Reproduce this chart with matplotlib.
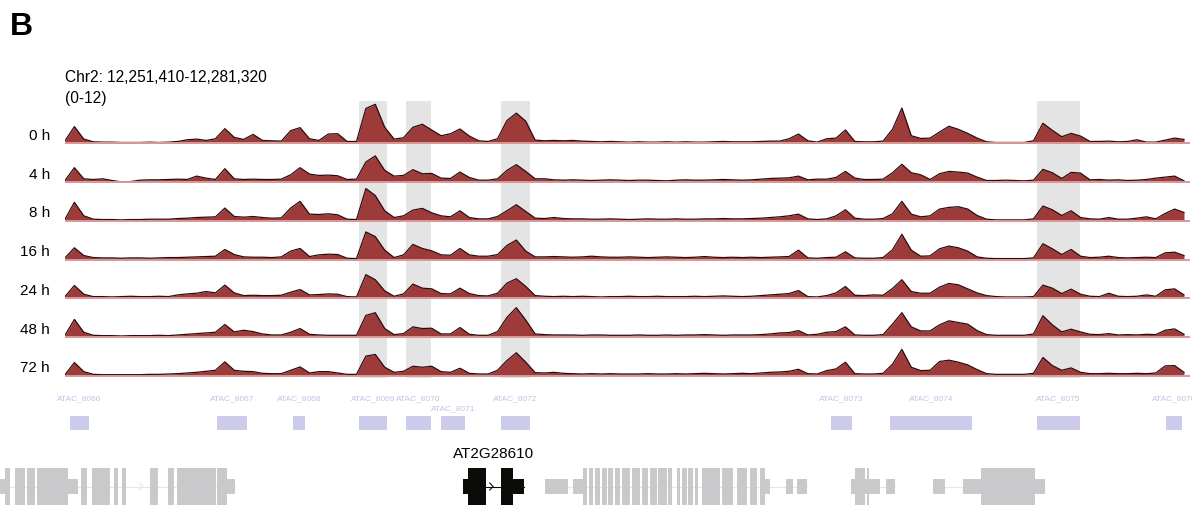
import numpy as np
import matplotlib
matplotlib.use('Agg')
from matplotlib import pyplot as plt
from matplotlib.patches import Rectangle

plt.rcParams['font.family'] = ['Liberation Sans', 'DejaVu Sans']

# region shown in the browser
chrom = 'Chr2'
start, end = 12251410, 12281320
bin_size = 250

samples = ['0 h', '4 h', '8 h', '16 h', '24 h', '48 h', '72 h']

# ATAC coverage, one value per 250 bp bin (scale 0-12)
sig_0h = [0.8, 5.0, 1.3, 0.5, 0.4, 0.4, 0.3, 0.3, 0.3, 0.4,
          0.3, 0.4, 0.6, 1.1, 1.3, 0.9, 1.4, 4.4, 1.8, 1.2,
          2.7, 0.9, 0.8, 0.7, 3.8, 4.7, 1.4, 0.9, 2.8, 2.9,
          0.6, 0.6, 10.4, 11.6, 4.8, 1.3, 1.7, 4.8, 5.7, 4.0,
          2.3, 2.9, 4.3, 2.2, 0.8, 0.6, 1.4, 6.8, 9.0, 6.6,
          1.0, 0.8, 0.9, 0.8, 0.9, 0.7, 0.6, 0.5, 0.6, 0.5,
          0.4, 0.5, 0.4, 0.4, 0.5, 0.4, 0.5, 0.4, 0.4, 0.5,
          0.6, 0.5, 0.5, 0.5, 0.6, 0.7, 0.7, 1.4, 2.8, 0.8,
          0.4, 1.4, 1.6, 4.0, 0.6, 0.5, 0.5, 0.7, 4.2, 10.5,
          2.3, 1.5, 1.6, 3.4, 5.1, 4.2, 3.0, 1.6, 0.5, 0.3,
          0.3, 0.3, 0.3, 0.8, 6.0, 3.9, 2.0, 3.0, 2.2, 0.6,
          0.6, 0.7, 0.5, 0.6, 1.1, 0.4, 0.4, 1.0, 1.6, 1.2]
sig_4h = [0.5, 4.3, 1.0, 0.8, 1.0, 0.5, 0.1, 0.2, 0.6, 0.7,
          0.7, 0.8, 0.9, 0.8, 1.8, 1.2, 0.8, 4.0, 1.0, 0.8,
          0.9, 0.8, 0.8, 0.9, 2.2, 4.3, 2.4, 2.0, 2.1, 1.9,
          0.8, 0.9, 6.0, 7.8, 3.5, 1.8, 2.0, 3.7, 2.5, 2.6,
          1.2, 1.1, 3.0, 1.4, 0.6, 0.6, 1.0, 3.5, 5.2, 3.2,
          1.0, 1.0, 0.7, 0.6, 0.7, 0.6, 0.5, 0.6, 0.7, 0.6,
          0.5, 0.6, 0.6, 0.5, 0.4, 0.6, 0.7, 0.6, 0.6, 0.7,
          0.8, 0.7, 0.6, 0.7, 0.9, 1.1, 1.2, 1.3, 1.8, 0.7,
          0.9, 0.9, 1.4, 3.2, 1.2, 0.8, 0.8, 0.9, 2.8, 5.3,
          2.8, 2.2, 0.8, 2.5, 3.2, 3.0, 2.7, 1.5, 0.5, 0.5,
          0.6, 0.5, 0.4, 0.6, 3.8, 2.8, 1.1, 2.9, 2.7, 0.7,
          0.8, 0.6, 0.7, 0.5, 0.6, 0.8, 1.2, 1.5, 1.8, 0.4]
sig_8h = [0.5, 5.5, 1.5, 0.5, 0.4, 0.4, 0.3, 0.4, 0.4, 0.5,
          0.5, 0.5, 0.7, 0.8, 1.0, 1.1, 1.2, 3.8, 1.3, 1.1,
          1.3, 1.0, 0.8, 0.9, 3.8, 5.8, 2.0, 1.9, 2.1, 1.8,
          0.5, 0.4, 9.6, 7.5, 3.0, 1.0, 1.5, 3.2, 3.7, 2.4,
          1.5, 1.2, 3.0, 1.0, 0.6, 0.6, 1.3, 3.0, 4.8, 2.8,
          0.8, 0.7, 1.0, 0.7, 0.6, 0.6, 0.5, 0.5, 0.6, 0.5,
          0.4, 0.5, 0.6, 0.5, 0.5, 0.6, 0.5, 0.5, 0.6, 0.6,
          0.7, 0.6, 0.6, 0.7, 0.8, 1.0, 1.2, 1.5, 2.0, 0.6,
          0.4, 0.6, 1.5, 3.3, 0.8, 0.5, 0.5, 0.7, 2.1, 5.8,
          2.0, 1.2, 1.5, 3.5, 4.0, 4.2, 3.5, 1.6, 0.5, 0.3,
          0.3, 0.3, 0.3, 0.6, 4.4, 3.3, 1.6, 3.0, 1.0, 0.6,
          0.5, 1.0, 0.5, 0.5, 0.8, 1.2, 0.6, 2.2, 3.5, 2.5]
sig_16h = [0.5, 3.5, 1.2, 0.6, 0.5, 0.5, 0.4, 0.5, 0.5, 0.4,
           0.5, 0.6, 0.6, 0.7, 0.8, 0.9, 1.0, 3.0, 1.5, 0.8,
           0.7, 0.7, 0.6, 0.8, 2.5, 3.3, 0.9, 1.4, 1.6, 1.5,
           0.4, 0.3, 8.2, 6.8, 2.8, 0.6, 1.4, 4.5, 3.3, 2.6,
           1.4, 1.3, 3.3, 1.4, 1.0, 1.0, 1.5, 4.2, 5.8, 2.5,
           0.8, 0.8, 0.9, 0.8, 0.7, 0.8, 1.0, 0.8, 0.7, 0.7,
           0.8, 0.7, 0.6, 0.7, 0.8, 0.7, 0.6, 0.7, 0.9, 0.7,
           0.6, 0.7, 0.6, 0.7, 0.6, 0.7, 0.8, 0.9, 2.8, 0.5,
           0.4, 0.6, 0.7, 2.3, 0.5, 0.4, 0.4, 0.6, 2.9, 7.5,
           2.8, 1.0, 1.1, 3.2, 4.0, 3.5, 2.5, 0.8, 0.4, 0.3,
           0.3, 0.3, 0.3, 0.5, 4.7, 3.2, 1.5, 3.0, 1.0, 0.6,
           0.7, 1.0, 0.6, 0.5, 0.6, 0.7, 0.6, 2.0, 2.2, 1.2]
sig_24h = [0.5, 3.8, 1.2, 0.5, 0.5, 0.4, 0.5, 0.6, 0.5, 0.5,
           0.6, 0.5, 1.0, 1.3, 1.5, 2.0, 1.6, 3.9, 1.6, 0.8,
           0.9, 0.8, 0.8, 0.9, 1.8, 2.6, 1.0, 1.1, 1.3, 1.2,
           0.5, 0.4, 7.0, 5.5, 2.2, 0.6, 1.3, 4.2, 3.0, 2.8,
           1.4, 1.3, 3.0, 1.4, 0.8, 0.7, 1.5, 4.5, 5.8, 3.5,
           0.8, 0.6, 0.5, 0.6, 0.5, 0.6, 0.5, 0.4, 0.5, 0.5,
           0.6, 0.5, 0.5, 0.6, 0.5, 0.5, 0.5, 0.6, 0.5, 0.6,
           0.7, 0.6, 0.5, 0.6, 0.8, 1.0, 1.2, 1.4, 2.3, 0.5,
           0.4, 0.8, 1.6, 3.5, 0.9, 0.8, 1.0, 0.9, 2.9, 5.5,
           2.0, 1.5, 1.5, 3.3, 4.4, 4.0, 2.8, 1.6, 0.8, 0.5,
           0.4, 0.4, 0.4, 0.5, 3.9, 3.0, 1.4, 2.7, 1.2, 0.6,
           0.5, 1.5, 0.6, 0.5, 0.6, 1.0, 0.6, 2.5, 2.8, 1.0]
sig_48h = [0.5, 5.2, 1.4, 0.5, 0.4, 0.4, 0.3, 0.4, 0.4, 0.4,
           0.5, 0.4, 0.6, 0.8, 1.0, 1.2, 1.4, 3.7, 1.5, 2.0,
           1.6, 0.9, 0.6, 0.6, 1.4, 2.5, 0.8, 0.6, 0.5, 0.5,
           0.5, 0.5, 6.4, 7.2, 2.5, 0.7, 1.0, 3.0, 2.5, 2.6,
           0.9, 0.9, 2.8, 0.8, 0.5, 0.5, 1.6, 5.8, 8.7, 5.0,
           0.9, 0.7, 0.6, 0.6, 0.6, 0.5, 0.6, 0.6, 0.5, 0.5,
           0.5, 0.6, 0.5, 0.5, 0.6, 0.5, 0.6, 0.6, 0.7, 0.6,
           0.5, 0.6, 0.6, 0.6, 0.7, 0.9, 1.2, 1.3, 1.9, 0.6,
           0.8, 1.4, 1.6, 3.0, 0.6, 0.5, 0.5, 0.7, 3.8, 7.2,
           3.0, 1.8, 1.8, 3.6, 4.8, 4.3, 3.8, 1.9, 0.7, 0.5,
           0.5, 0.5, 0.5, 0.9, 6.3, 3.6, 1.5, 2.3, 1.5, 0.8,
           0.7, 1.0, 0.6, 0.7, 0.6, 0.8, 0.7, 2.0, 2.4, 0.8]
sig_72h = [0.3, 3.9, 1.2, 0.4, 0.3, 0.3, 0.3, 0.3, 0.3, 0.4,
           0.4, 0.5, 0.6, 0.8, 1.0, 1.3, 1.6, 4.1, 1.6, 1.3,
           1.2, 0.7, 0.6, 0.6, 1.6, 2.6, 0.8, 1.2, 1.2, 0.8,
           0.4, 0.4, 5.8, 6.3, 2.5, 1.0, 1.3, 2.8, 2.5, 2.8,
           1.2, 1.0, 2.2, 0.7, 0.5, 0.5, 1.6, 4.5, 6.8, 4.0,
           0.9, 0.8, 1.0, 0.7, 0.6, 0.5, 0.6, 0.5, 0.6, 0.5,
           0.5, 0.5, 0.6, 0.5, 0.5, 0.6, 0.5, 0.6, 0.7, 0.6,
           0.5, 0.6, 0.7, 0.6, 0.8, 1.0, 1.1, 1.3, 1.9, 0.6,
           0.5, 1.5, 2.0, 4.0, 0.6, 0.5, 0.5, 0.7, 3.4, 7.8,
           2.5, 1.5, 1.6, 4.2, 4.6, 4.0, 3.2, 1.8, 0.6, 0.4,
           0.4, 0.4, 0.4, 0.7, 5.4, 3.0, 1.6, 2.3, 1.0, 0.6,
           0.6, 0.7, 0.6, 0.6, 0.7, 0.6, 0.8, 2.9, 3.0, 1.0]
tracks = [sig_0h, sig_4h, sig_8h, sig_16h, sig_24h, sig_48h, sig_72h]

# called ATAC peaks
peak_names = ['ATAC_8066', 'ATAC_8067', 'ATAC_8068', 'ATAC_8069', 'ATAC_8070', 'ATAC_8071',
              'ATAC_8072', 'ATAC_8073', 'ATAC_8074', 'ATAC_8075', 'ATAC_8076']
peak_starts = [12251543, 12255451, 12257472, 12259227, 12260476, 12261407,
               12263002, 12271776, 12273344, 12277253, 12280682]
peak_ends = [12252048, 12256249, 12257791, 12259971, 12261141, 12262045,
             12263773, 12272334, 12275524, 12278396, 12281108]
highlighted = ['ATAC_8069', 'ATAC_8070', 'ATAC_8072', 'ATAC_8075']

# gene models: span, strand, coding (tall) and UTR (short) blocks
gene_labels = [None, 'AT2G28610', None, None, None]
gene_spans = [(12249682, 12255930), (12261992, 12263613), (12264172, 12271138),
              (12272307, 12273477), (12274488, 12277465)]
gene_strands = ['+', '+', '-', '-', '-']
gene_cds = [
    [(12249815, 12249948), (12250081, 12250347), (12250400, 12250612), (12250666, 12251144),
     (12251144, 12251490), (12251835, 12251995), (12252128, 12252606), (12252713, 12252819),
     (12252925, 12253032), (12253670, 12253883), (12254148, 12254308), (12254388, 12254919),
     (12254919, 12255425), (12255451, 12255717)],
    [(12262125, 12262603), (12263002, 12263321)],
    [(12265182, 12265288), (12265342, 12265448), (12265501, 12265634), (12265687, 12265820),
     (12265847, 12265980), (12266033, 12266166), (12266219, 12266432), (12266485, 12266698),
     (12266751, 12266910), (12266963, 12267150), (12267176, 12267415), (12267442, 12267548),
     (12267681, 12267761), (12267814, 12267947), (12267974, 12268107), (12268160, 12268240),
     (12268346, 12268824), (12268878, 12269170), (12269276, 12269542), (12269622, 12269808),
     (12269888, 12270021)],
    [(12272414, 12272680), (12272733, 12272786)],
    [(12275764, 12277199)],
]
gene_utr = [
    [(12249682, 12249815), (12251490, 12251756), (12255717, 12255930)],
    [(12261992, 12262125), (12263321, 12263613)],
    [(12264172, 12264783), (12264916, 12265182), (12270021, 12270154), (12270579, 12270765),
     (12270872, 12271138)],
    [(12272307, 12273078), (12273238, 12273477)],
    [(12274488, 12274807), (12275285, 12275764), (12277199, 12277465)],
]

# ---------------------------------------------------------------
W, H = 1192, 509
fig = plt.figure(figsize=(W / 100, H / 100), dpi=100)

def px_box(x0, y0, x1, y1):
    return [x0 / W, 1 - y1 / H, (x1 - x0) / W, (y1 - y0) / H]

tx0, tx1 = 65, 1190
bpp = (end - start) / (tx1 - tx0)

fill_col = '#9d3b3b'
edge_col = '#2e0b0b'

fig.text(10 / W, 1 - 35 / H, 'B', fontsize=23, weight='bold', va='baseline')
fig.text(tx0 / W, 1 - 78 / H, '%s: %s-%s' % (chrom, format(start, ','), format(end, ',')),
         fontsize=11.2, va='center')
fig.text(tx0 / W, 1 - 98 / H, '(0-12)', fontsize=11.2, va='center')

# highlight bands behind the tracks
axbg = fig.add_axes(px_box(tx0, 101, tx1, 378))
axbg.set_xlim(start, end)
axbg.set_ylim(0, 1)
axbg.axis('off')
for n, s, e in zip(peak_names, peak_starts, peak_ends):
    if n in highlighted:
        axbg.axvspan(s, e, color='#e4e4e4', lw=0)

# coverage tracks
base0, step = 143, 38.7
for k, (name, vals) in enumerate(zip(samples, tracks)):
    b = base0 + k * step
    ax = fig.add_axes(px_box(tx0, b - 40, tx1, b + 1.5))
    ax.patch.set_alpha(0)
    pos = start + bin_size * np.arange(len(vals))
    ax.fill_between(pos, 0, vals, color=fill_col, lw=0)
    ax.plot(pos, vals, color=edge_col, lw=0.9)
    ax.axhline(0, color='#d89a9a', lw=1.4)
    ax.set_xlim(start, end)
    ax.set_ylim(-0.3, 12)
    ax.axis('off')
    fig.text(50 / W, 1 - (b - 7) / H, name, fontsize=11, ha='right', va='center')

# peak track
axp = fig.add_axes(px_box(tx0, 390, tx1, 435))
axp.set_xlim(start, end)
axp.set_ylim(45, 0)
axp.axis('off')
label_w = 1150
last_end = -1e12
for n, s, e in zip(peak_names, peak_starts, peak_ends):
    axp.add_patch(Rectangle((s, 26), e - s, 14, color='#cdcbeb', lw=0))
    c = (s + e) / 2
    row = 0
    if c - label_w / 2 < last_end:
        row = 1
    else:
        last_end = c + label_w / 2
    axp.text(c, 9 + row * 9.5, n, fontsize=6, color='#c4c1e6', ha='center', va='center',
             clip_on=False)

# gene track
axg = fig.add_axes([0, 1 - 509 / H, 1, 69 / H])
axg.set_xlim(start - tx0 * bpp, start + (W - tx0) * bpp)
axg.set_ylim(69, 0)
axg.axis('off')
mid = 46.5
for lab, span, strand, cds, utr in zip(gene_labels, gene_spans, gene_strands, gene_cds, gene_utr):
    col = '#0b0b08' if lab else '#c9c9cb'
    lcol = '#0b0b08' if lab else '#e6e6e6'
    axg.plot(span, [mid, mid], color=lcol, lw=0.8, zorder=1)
    blocks = cds + utr
    # strand chevrons in intron gaps
    sgn = 1 if strand == '+' else -1
    for x in np.arange(span[0] + 300, span[1] - 150, 700 if not lab else 250):
        if any(a - 60 < x < b + 60 for a, b in blocks):
            continue
        axg.plot([x - sgn * 90, x, x - sgn * 90], [mid - 3.5, mid, mid + 3.5],
                 color=lcol, lw=0.8, zorder=1)
    for a, b in utr:
        axg.add_patch(Rectangle((a, mid - 7.5), b - a, 15, color=col, lw=0, zorder=2))
    for a, b in cds:
        axg.add_patch(Rectangle((a, mid - 18.5), b - a, 37, color=col, lw=0, zorder=2))
    if lab:
        axg.text((span[0] + span[1]) / 2, 14, lab, fontsize=11, ha='center', va='center')

fig.savefig('out.png', dpi=100)
